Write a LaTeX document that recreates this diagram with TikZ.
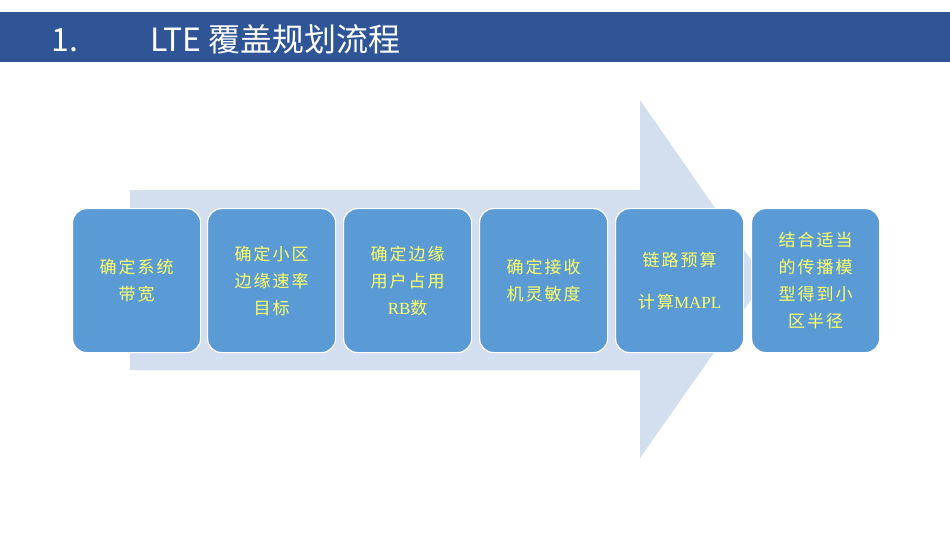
\documentclass[tikz,border=0pt]{standalone}
\usepackage{fontspec}
\setmainfont{Liberation Serif}
\newfontfamily\cjk[LetterSpace=12]{Noto Sans CJK SC}
\newfontfamily\tfont{Noto Sans CJK SC}
\definecolor{hdr}{HTML}{2F5597}
\definecolor{arr}{HTML}{D3DEEE}
\definecolor{boxc}{HTML}{5B9BD5}
\definecolor{txt}{HTML}{FFFF66}
\begin{document}
\begin{tikzpicture}[x=1pt,y=-1pt,
  stepbox/.style={draw=white,line width=1.2pt,fill=boxc,rounded corners=14pt,minimum width=128pt,minimum height=144pt,anchor=north west,inner sep=0pt,align=center,text=txt,font=\fontsize{17}{27}\selectfont\cjk}]
\useasboundingbox (0,0) rectangle (950,535);
\fill[white] (0,0) rectangle (950,535);
\fill[hdr] (0,12) rectangle (950,62);
\node[anchor=west,text=white,font=\fontsize{32}{33}\selectfont\tfont] (title) at (48,39) {1.\hspace{72pt}LTE 覆盖规划流程};
\fill[arr] (130,190) -- (640,190) -- (640,100) -- (765,280) -- (640,458) -- (640,370) -- (130,370) -- cycle;
\node[stepbox] (b1) at (72,208) {确定系统\\带宽};
\node[stepbox] (b2) at (207,208) {确定小区\\边缘速率\\目标};
\node[stepbox] (b3) at (343,208) {确定边缘\\用户占用\\{\normalfont RB}数};
\node[stepbox] (b4) at (479,208) {确定接收\\机灵敏度};
\node[stepbox,font=\fontsize{17}{42}\selectfont\cjk] (b5) at (615,208) {链路预算\\计算{\normalfont MAPL}};
\node[stepbox] (b6) at (751,208) {结合适当\\的传播模\\型得到小\\区半径};
\end{tikzpicture}
\end{document}
